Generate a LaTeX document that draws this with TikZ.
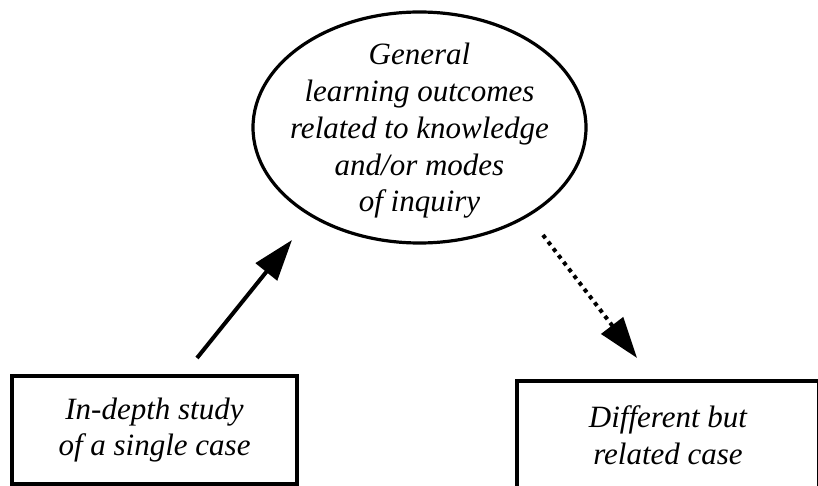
\documentclass[tikz,border=0pt]{standalone}
\usepackage{fontspec}
\setmainfont{Liberation Serif}
\usetikzlibrary{arrows.meta,shapes.geometric}
\begin{document}
\begin{tikzpicture}[x=1pt,y=-1pt,
  lbl/.style={font=\itshape\fontsize{31}{36.75}\selectfont, align=center, inner sep=0pt},
  casebox/.style={lbl, draw, line width=3.2pt, minimum height=108pt},
  bigtip/.style={-{Triangle[length=41pt,width=27pt]}},
  link/.style={line width=4pt, bigtip}]
\useasboundingbox[fill=white] (0,0) rectangle (818,486);
\clip (0,0) rectangle (818,486);

% central outcome ellipse and its text
\node[draw, ellipse, line width=3.2pt, minimum width=333pt, minimum height=231pt, inner sep=0pt] (ell) at (419.5,127.5) {};
\node[lbl] (elltxt) at (419.5,131) {General\\learning outcomes\\related to knowledge\\and/or modes\\of inquiry};

% the two cases
\node[casebox, minimum width=285pt] (study) at (154.5,430) {In-depth study\\of a single case};
\node[casebox, minimum width=302pt] (other) at (668,435) {Different but\\related case};

% generalising from the studied case
\coordinate (upfrom) at (197,358);
\coordinate (upto) at (292,240);
\draw[link] (upfrom) -- (upto);

% transferring to the related case
\coordinate (downfrom) at (543,235);
\coordinate (downto) at (637,358);
\draw[link, dash pattern=on 4pt off 4.5pt] (downfrom) -- (downto);
\end{tikzpicture}
\end{document}
